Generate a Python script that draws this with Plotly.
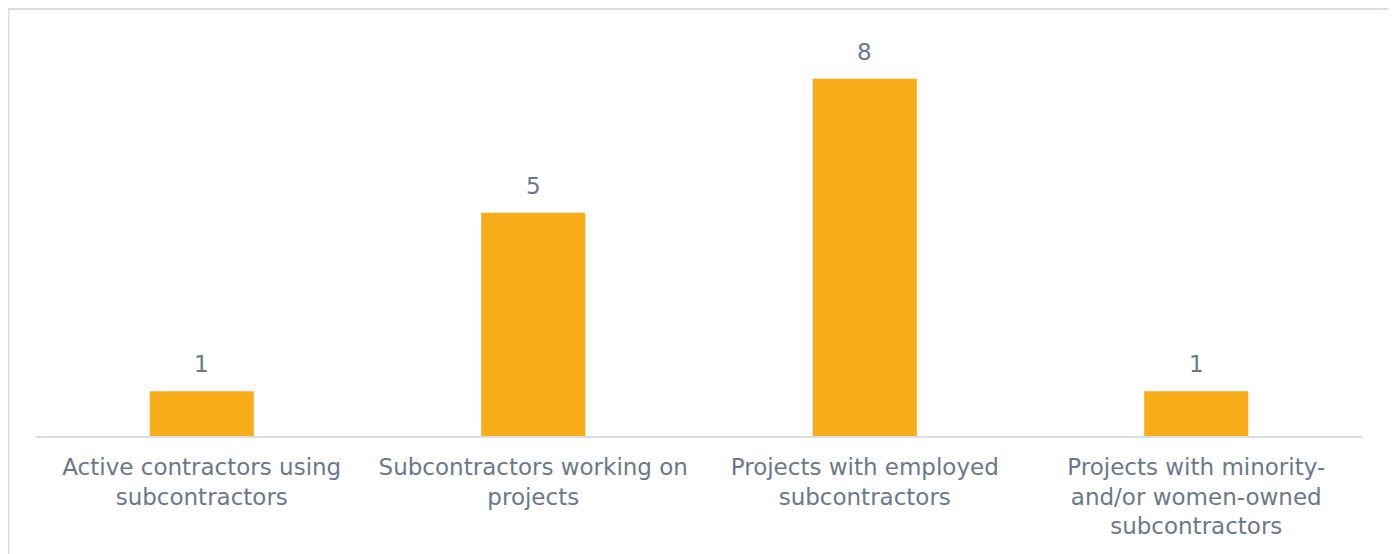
import plotly.graph_objects as go

categories = [
    "Active contractors using<br>subcontractors",
    "Subcontractors working on<br>projects",
    "Projects with employed<br>subcontractors",
    "Projects with minority-<br>and/or women-owned<br>subcontractors",
]
values = [1, 5, 8, 1]

BAR = "#F9AD1A"
TXT = "#6B7889"
LINE = "#D9DEE3"
FONT = "DejaVu Sans"

fig = go.Figure(go.Bar(
    x=categories, y=values, marker_color=BAR, marker_line_width=0,
    hoverinfo="skip",
))

for c, v in zip(categories, values):
    fig.add_annotation(x=c, y=v, text=str(v), showarrow=False,
                       yanchor="bottom", yshift=12,
                       font=dict(size=23, color=TXT, family=FONT))

fig.update_layout(
    width=1396, height=554,
    margin=dict(l=28, r=42, t=26, b=125.5),
    paper_bgcolor="white", plot_bgcolor="white",
    bargap=0.686, showlegend=False,
    font=dict(family=FONT, color=TXT, size=23),
)
fig.update_xaxes(showline=True, linecolor=LINE, linewidth=2, ticks="outside",
                 tickcolor="rgba(0,0,0,0)", ticklen=9,
                 tickfont=dict(size=23, color=TXT, family=FONT))
fig.update_yaxes(range=[0, 9], visible=False, showgrid=False)

# chart-area border (left, top, right edges visible)
fig.add_shape(type="rect", xref="paper", yref="paper",
              x0=-0.0207, x1=1.0204, y0=-0.4, y1=1.062,
              line=dict(color=LINE, width=2), fillcolor="rgba(0,0,0,0)", layer="above")

fig.write_html("out.html")
